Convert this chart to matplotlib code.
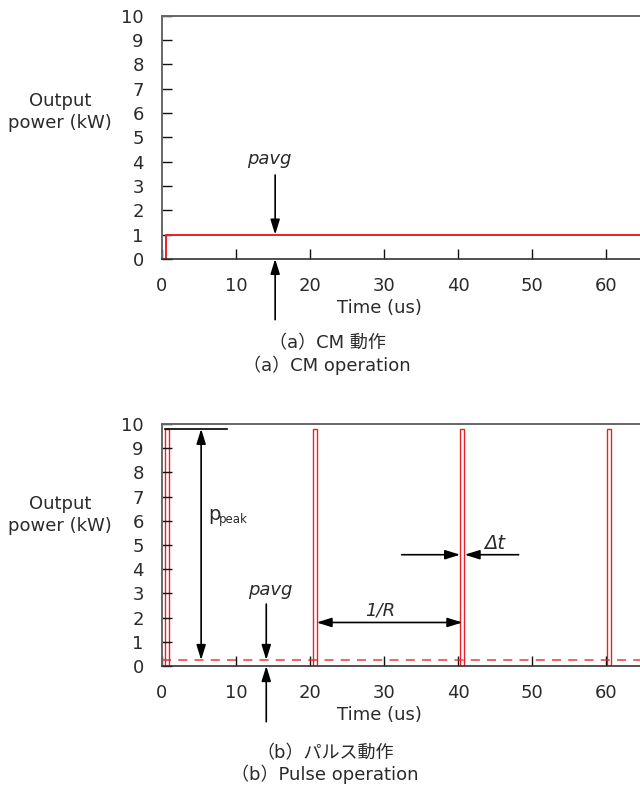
import numpy as np
import matplotlib
matplotlib.use("Agg")
import matplotlib.pyplot as plt
from matplotlib.patches import Rectangle

plt.rcParams['font.family'] = ['DejaVu Sans', 'Noto Sans CJK JP']

# data
y_ticks = list(range(0, 11))
x_ticks = [0, 10, 20, 30, 40, 50, 60]
x_max = 64.6

# (a) CW operation
cw_start = 0.5
cw_power = 1.0

# (b) pulse operation
pulse_starts = [0.4, 20.4, 40.3, 60.2]
pulse_width = 0.5
pulse_peak = 9.8
pulse_avg = 0.25

captions_a = ["（a）CM 動作", "（a）CM operation"]
captions_b = ["（b）パルス動作", "（b）Pulse operation"]

RED = "#e8202a"
TXT = '#2a2a2a'
ARROW = dict(arrowstyle='-|>,head_length=0.9,head_width=0.28', color='black',
             lw=1.2, shrinkA=0, shrinkB=0)
DARROW = dict(arrowstyle='<|-|>,head_length=0.9,head_width=0.28', color='black',
              lw=1.2, shrinkA=0, shrinkB=0)


def style_axes(ax, ylab_y):
    ax.set_xlim(0, x_max)
    ax.set_ylim(0, 10)
    ax.set_yticks(y_ticks)
    ax.set_xticks(x_ticks)
    ax.tick_params(direction='in', length=7, width=1, color='#111111',
                   labelsize=13, pad=13, labelcolor=TXT)
    for s in ['top', 'left']:
        ax.spines[s].set_color('#666666')
        ax.spines[s].set_linewidth(1.4)
    ax.spines['bottom'].set_color('#333333')
    ax.spines['bottom'].set_linewidth(1.2)
    ax.spines['right'].set_visible(False)
    ax.set_xlabel("Time (us)", fontsize=13, labelpad=3, color=TXT)
    ax.xaxis.label.set_x(0.454)
    ax.text(-0.213, ylab_y, "Output\npower (kW)", transform=ax.transAxes,
            ha='center', va='center', fontsize=13, color=TXT,
            linespacing=1.3)


fig = plt.figure(figsize=(6.4, 7.87), dpi=100)

# ---- (a) CM
ax1 = fig.add_axes([0.253, 0.671, 0.747, 0.309])
style_axes(ax1, 0.605)
ax1.plot([cw_start, cw_start, x_max], [0, cw_power, cw_power], color=RED, lw=1.4)
ax1.annotate("", xy=(15.3, cw_power), xytext=(15.3, 3.45), arrowprops=ARROW)
ax1.annotate("", xy=(15.3, 0), xytext=(15.3, -2.5), arrowprops=ARROW,
             annotation_clip=False)
ax1.text(14.5, 4.1, "pavg", style='italic', fontsize=13,
         ha='center', va='center', color=TXT)

# ---- (b) pulse
ax2 = fig.add_axes([0.253, 0.1537, 0.747, 0.3075])
style_axes(ax2, 0.624)
for st in pulse_starts:
    ax2.add_patch(Rectangle((st, 0), pulse_width, pulse_peak, fill=False,
                            edgecolor=RED, lw=1.0))
ax2.axhline(pulse_avg, color=RED, lw=1.3, ls=(0, (5, 4)), alpha=0.75)

ax2.plot([0.4, 8.8], [pulse_peak, pulse_peak], color='black', lw=1.2)
ax2.annotate("", xy=(5.3, pulse_avg), xytext=(5.3, pulse_peak), arrowprops=DARROW)
ax2.text(6.2, 6.05, "p", fontsize=14, ha='left', va='baseline', color=TXT)
ax2.text(7.65, 5.9, "peak", fontsize=8.5, ha='left', va='baseline', color=TXT)

ax2.annotate("", xy=(14.1, pulse_avg), xytext=(14.1, 2.56), arrowprops=ARROW)
ax2.annotate("", xy=(14.1, 0), xytext=(14.1, -2.3), arrowprops=ARROW,
             annotation_clip=False)
ax2.text(14.7, 3.14, "pavg", style='italic', fontsize=13,
         ha='center', va='center', color=TXT)

ax2.annotate("", xy=(20.9, 1.8), xytext=(40.6, 1.8), arrowprops=DARROW)
ax2.text(29.5, 2.31, "1/R", style='italic', fontsize=13,
         ha='center', va='center', color=TXT)

ax2.annotate("", xy=(40.3, 4.6), xytext=(32.4, 4.6), arrowprops=ARROW)
ax2.annotate("", xy=(40.9, 4.6), xytext=(48.2, 4.6), arrowprops=ARROW)
ax2.text(45.0, 5.08, "Δt", style='italic', fontsize=14,
         ha='center', va='center', color=TXT)

# captions
for i, cap in enumerate(captions_a):
    fig.text(0.511, 1 - (343 + 22 * i) / 787, cap, ha='center', va='center',
             fontsize=13, color=TXT)
for i, cap in enumerate(captions_b):
    fig.text(0.508, 1 - (753 + 21 * i) / 787, cap, ha='center', va='center',
             fontsize=13, color=TXT)

fig.savefig("out.png", dpi=100)
